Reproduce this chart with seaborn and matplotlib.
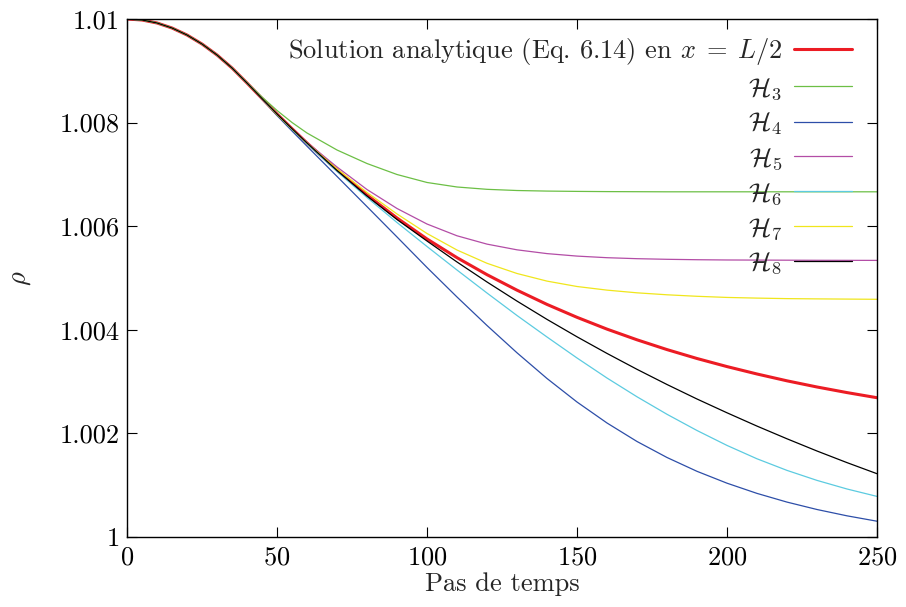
import matplotlib
matplotlib.use("Agg")
import matplotlib.pyplot as plt
from matplotlib.ticker import FuncFormatter
import pandas as pd
import seaborn as sns

# ---------------------------------------------------------------------------
# Data (rho at x = L/2 versus time step)
# ---------------------------------------------------------------------------
steps = [0, 5, 10, 15, 20, 25, 30, 35, 40, 45, 50, 55, 60,
         70, 80, 90, 100, 110, 120, 130, 140, 150, 160, 170, 180, 190,
         200, 210, 220, 230, 240, 250]

# first part of the curve is common to every series
rho_start = [1.010000, 1.009981, 1.009923, 1.009826, 1.009691, 1.009517,
             1.009305, 1.009054, 1.008764]

rho_analytic = rho_start + [
    1.008465, 1.008166, 1.007882, 1.007606, 1.007085, 1.006602, 1.006158,
    1.005753, 1.005392, 1.005064, 1.004765, 1.004490, 1.004241, 1.004013,
    1.003807, 1.003618, 1.003446, 1.003290, 1.003147, 1.003015, 1.002896,
    1.002788, 1.002689]
rho_h3 = rho_start[:-1] + [
    1.008774, 1.008494, 1.008234, 1.008002, 1.007799, 1.007471, 1.007210,
    1.006998, 1.006844, 1.006757, 1.006712, 1.006689, 1.006678, 1.006672,
    1.006668, 1.006666, 1.006664, 1.006664, 1.006664, 1.006664, 1.006664,
    1.006664, 1.006664, 1.006664]
rho_h4 = rho_start + [
    1.008456, 1.008137, 1.007838, 1.007544, 1.006961, 1.006378, 1.005792,
    1.005203, 1.004633, 1.004083, 1.003556, 1.003060, 1.002606, 1.002201,
    1.001844, 1.001535, 1.001268, 1.001039, 1.000842, 1.000674, 1.000531,
    1.000409, 1.000305]
rho_h5 = rho_start + [
    1.008465, 1.008156, 1.007882, 1.007616, 1.007143, 1.006708, 1.006342,
    1.006042, 1.005815, 1.005654, 1.005544, 1.005471, 1.005423, 1.005392,
    1.005373, 1.005361, 1.005353, 1.005348, 1.005346, 1.005344, 1.005342,
    1.005341, 1.005340]
rho_h6 = rho_start + [
    1.008465, 1.008156, 1.007867, 1.007587, 1.007056, 1.006554, 1.006071,
    1.005608, 1.005154, 1.004710, 1.004276, 1.003861, 1.003456, 1.003069,
    1.002707, 1.002369, 1.002056, 1.001768, 1.001510, 1.001286, 1.001093,
    1.000927, 1.000784]
rho_h7 = rho_start + [
    1.008465, 1.008156, 1.007876, 1.007606, 1.007104, 1.006651, 1.006236,
    1.005859, 1.005540, 1.005284, 1.005087, 1.004940, 1.004836, 1.004766,
    1.004714, 1.004676, 1.004647, 1.004625, 1.004612, 1.004602, 1.004597,
    1.004593, 1.004589]
rho_h8 = rho_start + [
    1.008465, 1.008166, 1.007882, 1.007606, 1.007075, 1.006583, 1.006129,
    1.005714, 1.005309, 1.004923, 1.004554, 1.004201, 1.003865, 1.003544,
    1.003237, 1.002944, 1.002664, 1.002398, 1.002141, 1.001896, 1.001660,
    1.001436, 1.001222]

labels = [r"Solution analytique (Eq. 6.14) en $x\;=\;L/2$",
          r"$\mathcal{H}_3$", r"$\mathcal{H}_4$", r"$\mathcal{H}_5$",
          r"$\mathcal{H}_6$", r"$\mathcal{H}_7$", r"$\mathcal{H}_8$"]
series = [rho_analytic, rho_h3, rho_h4, rho_h5, rho_h6, rho_h7, rho_h8]
colors = ["#ec1c24", "#6cbf45", "#2d4ea8", "#b34da6", "#5ccbe0", "#f0e61c", "#000000"]
widths = [2.2, 0.9, 0.9, 0.9, 0.9, 0.9, 0.9]

# ---------------------------------------------------------------------------
# Style: gnuplot / epslatex look with Computer Modern
# ---------------------------------------------------------------------------
sns.set_theme(style="ticks")
plt.rcParams["font.family"] = "serif"
plt.rcParams["font.serif"] = ["cmr10", "DejaVu Serif"]
plt.rcParams["mathtext.fontset"] = "cm"
plt.rcParams["axes.formatter.use_mathtext"] = True
plt.rcParams["font.size"] = 19

fig = plt.figure(figsize=(9.06, 6.07), dpi=100)
ax = fig.add_axes([0.1402, 0.1153, 0.8278, 0.8534])

for vals, lab, col, lw in zip(series, labels, colors, widths):
    df = pd.DataFrame({"step": steps, "rho": vals})
    sns.lineplot(data=df, x="step", y="rho", ax=ax, color=col, lw=lw, label=lab)

ax.set_xlim(0, 250)
ax.set_ylim(1.0, 1.01)
ax.set_xticks([0, 50, 100, 150, 200, 250])
ax.set_yticks([1.0, 1.002, 1.004, 1.006, 1.008, 1.01])
ax.yaxis.set_major_formatter(FuncFormatter(lambda v, p: "%g" % round(v, 4)))

for s in ax.spines.values():
    s.set_linewidth(1.0)
    s.set_color("black")
ax.tick_params(direction="in", length=7, width=0.8, top=True, right=True,
               labelsize=19, colors="black")
ax.tick_params(axis="x", pad=6)
ax.tick_params(axis="y", pad=5)

ax.set_xlabel("Pas de temps", fontsize=19, labelpad=2)
ax.set_ylabel(r"$\rho$", fontsize=19)
ax.yaxis.set_label_coords(-0.125, 0.5)

ax.legend(loc="upper right", bbox_to_anchor=(0.967, 0.967), frameon=False,
          markerfirst=False, borderaxespad=0, borderpad=0,
          handlelength=2.2, handletextpad=0.45, labelspacing=0.34, fontsize=19)

fig.savefig("out.png", dpi=100)
